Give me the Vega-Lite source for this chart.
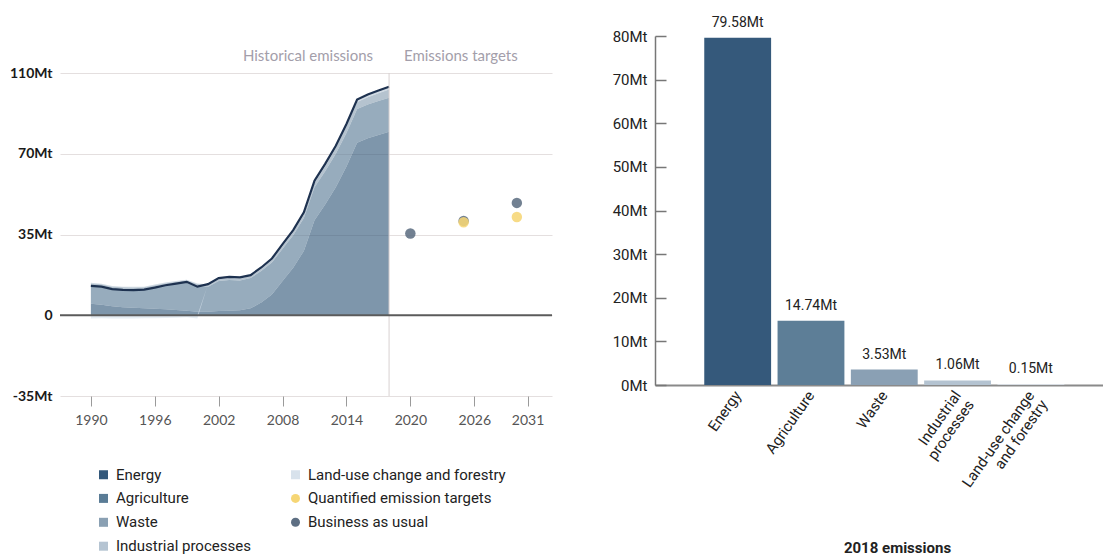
{
  "$schema": "https://vega.github.io/schema/vega-lite/v6.json",
  "background": "white",
  "padding": {"left": 9, "top": 15, "right": 0, "bottom": 0},
  "spacing": 103,
  "bounds": "flush",
  "config": {"view": {"stroke": null}, "font": "Roboto"},
  "resolve": {"scale": {"color": "independent"}, "legend": {"color": "independent"}},
  "datasets": {
    "sectors": [
      {"year":1990,"sector":"Energy","value":5.0},{"year":1990,"sector":"Agriculture","value":8.2},{"year":1990,"sector":"Waste","value":0.6},{"year":1990,"sector":"Industrial processes","value":0.3},{"year":1990,"sector":"Land-use change and forestry","value":-1.4},
      {"year":1991,"sector":"Energy","value":4.6},{"year":1991,"sector":"Agriculture","value":8.2},{"year":1991,"sector":"Waste","value":0.6},{"year":1991,"sector":"Industrial processes","value":0.3},{"year":1991,"sector":"Land-use change and forestry","value":-1.3},
      {"year":1992,"sector":"Energy","value":3.9},{"year":1992,"sector":"Agriculture","value":7.9},{"year":1992,"sector":"Waste","value":0.6},{"year":1992,"sector":"Industrial processes","value":0.3},{"year":1992,"sector":"Land-use change and forestry","value":-1.4},
      {"year":1993,"sector":"Energy","value":3.5},{"year":1993,"sector":"Agriculture","value":8.0},{"year":1993,"sector":"Waste","value":0.6},{"year":1993,"sector":"Industrial processes","value":0.3},{"year":1993,"sector":"Land-use change and forestry","value":-1.4},
      {"year":1994,"sector":"Energy","value":3.2},{"year":1994,"sector":"Agriculture","value":8.2},{"year":1994,"sector":"Waste","value":0.6},{"year":1994,"sector":"Industrial processes","value":0.3},{"year":1994,"sector":"Land-use change and forestry","value":-1.4},
      {"year":1995,"sector":"Energy","value":3.0},{"year":1995,"sector":"Agriculture","value":8.5},{"year":1995,"sector":"Waste","value":0.6},{"year":1995,"sector":"Industrial processes","value":0.3},{"year":1995,"sector":"Land-use change and forestry","value":-1.3},
      {"year":1996,"sector":"Energy","value":2.8},{"year":1996,"sector":"Agriculture","value":9.5},{"year":1996,"sector":"Waste","value":0.7},{"year":1996,"sector":"Industrial processes","value":0.3},{"year":1996,"sector":"Land-use change and forestry","value":-1.3},
      {"year":1997,"sector":"Energy","value":2.6},{"year":1997,"sector":"Agriculture","value":10.6},{"year":1997,"sector":"Waste","value":0.7},{"year":1997,"sector":"Industrial processes","value":0.3},{"year":1997,"sector":"Land-use change and forestry","value":-1.2},
      {"year":1998,"sector":"Energy","value":2.3},{"year":1998,"sector":"Agriculture","value":11.5},{"year":1998,"sector":"Waste","value":0.7},{"year":1998,"sector":"Industrial processes","value":0.3},{"year":1998,"sector":"Land-use change and forestry","value":-1.1},
      {"year":1999,"sector":"Energy","value":2.0},{"year":1999,"sector":"Agriculture","value":12.4},{"year":1999,"sector":"Waste","value":0.7},{"year":1999,"sector":"Industrial processes","value":0.3},{"year":1999,"sector":"Land-use change and forestry","value":-0.9},
      {"year":2000,"sector":"Energy","value":1.5},{"year":2000,"sector":"Agriculture","value":11.3},{"year":2000,"sector":"Waste","value":0.7},{"year":2000,"sector":"Industrial processes","value":0.3},{"year":2000,"sector":"Land-use change and forestry","value":-1.4},
      {"year":2001,"sector":"Energy","value":1.5},{"year":2001,"sector":"Agriculture","value":10.9},{"year":2001,"sector":"Waste","value":0.7},{"year":2001,"sector":"Industrial processes","value":0.3},{"year":2001,"sector":"Land-use change and forestry","value":0.1},
      {"year":2002,"sector":"Energy","value":1.8},{"year":2002,"sector":"Agriculture","value":13.0},{"year":2002,"sector":"Waste","value":0.8},{"year":2002,"sector":"Industrial processes","value":0.3},{"year":2002,"sector":"Land-use change and forestry","value":0.2},
      {"year":2003,"sector":"Energy","value":2.0},{"year":2003,"sector":"Agriculture","value":13.3},{"year":2003,"sector":"Waste","value":0.8},{"year":2003,"sector":"Industrial processes","value":0.3},{"year":2003,"sector":"Land-use change and forestry","value":0.2},
      {"year":2004,"sector":"Energy","value":2.2},{"year":2004,"sector":"Agriculture","value":12.9},{"year":2004,"sector":"Waste","value":0.8},{"year":2004,"sector":"Industrial processes","value":0.3},{"year":2004,"sector":"Land-use change and forestry","value":0.2},
      {"year":2005,"sector":"Energy","value":3.0},{"year":2005,"sector":"Agriculture","value":13.1},{"year":2005,"sector":"Waste","value":0.8},{"year":2005,"sector":"Industrial processes","value":0.3},{"year":2005,"sector":"Land-use change and forestry","value":0.2},
      {"year":2006,"sector":"Energy","value":5.5},{"year":2006,"sector":"Agriculture","value":13.7},{"year":2006,"sector":"Waste","value":0.9},{"year":2006,"sector":"Industrial processes","value":0.4},{"year":2006,"sector":"Land-use change and forestry","value":0.2},
      {"year":2007,"sector":"Energy","value":9.0},{"year":2007,"sector":"Agriculture","value":13.9},{"year":2007,"sector":"Waste","value":1.0},{"year":2007,"sector":"Industrial processes","value":0.5},{"year":2007,"sector":"Land-use change and forestry","value":0.2},
      {"year":2008,"sector":"Energy","value":14.8},{"year":2008,"sector":"Agriculture","value":14.0},{"year":2008,"sector":"Waste","value":1.2},{"year":2008,"sector":"Industrial processes","value":0.6},{"year":2008,"sector":"Land-use change and forestry","value":0.2},
      {"year":2009,"sector":"Energy","value":20.6},{"year":2009,"sector":"Agriculture","value":14.1},{"year":2009,"sector":"Waste","value":1.4},{"year":2009,"sector":"Industrial processes","value":0.6},{"year":2009,"sector":"Land-use change and forestry","value":0.2},
      {"year":2010,"sector":"Energy","value":27.9},{"year":2010,"sector":"Agriculture","value":14.2},{"year":2010,"sector":"Waste","value":1.6},{"year":2010,"sector":"Industrial processes","value":0.7},{"year":2010,"sector":"Land-use change and forestry","value":0.2},
      {"year":2011,"sector":"Energy","value":41.2},{"year":2011,"sector":"Agriculture","value":14.3},{"year":2011,"sector":"Waste","value":1.9},{"year":2011,"sector":"Industrial processes","value":0.7},{"year":2011,"sector":"Land-use change and forestry","value":0.2},
      {"year":2012,"sector":"Energy","value":48.0},{"year":2012,"sector":"Agriculture","value":14.4},{"year":2012,"sector":"Waste","value":2.2},{"year":2012,"sector":"Industrial processes","value":0.8},{"year":2012,"sector":"Land-use change and forestry","value":0.2},
      {"year":2013,"sector":"Energy","value":55.5},{"year":2013,"sector":"Agriculture","value":14.5},{"year":2013,"sector":"Waste","value":2.5},{"year":2013,"sector":"Industrial processes","value":0.8},{"year":2013,"sector":"Land-use change and forestry","value":0.2},
      {"year":2014,"sector":"Energy","value":64.5},{"year":2014,"sector":"Agriculture","value":14.5},{"year":2014,"sector":"Waste","value":2.8},{"year":2014,"sector":"Industrial processes","value":0.9},{"year":2014,"sector":"Land-use change and forestry","value":0.2},
      {"year":2015,"sector":"Energy","value":74.8},{"year":2015,"sector":"Agriculture","value":14.6},{"year":2015,"sector":"Waste","value":3.0},{"year":2015,"sector":"Industrial processes","value":0.9},{"year":2015,"sector":"Land-use change and forestry","value":0.2},
      {"year":2016,"sector":"Energy","value":76.7},{"year":2016,"sector":"Agriculture","value":14.6},{"year":2016,"sector":"Waste","value":3.2},{"year":2016,"sector":"Industrial processes","value":1.0},{"year":2016,"sector":"Land-use change and forestry","value":0.2},
      {"year":2017,"sector":"Energy","value":78.15},{"year":2017,"sector":"Agriculture","value":14.7},{"year":2017,"sector":"Waste","value":3.4},{"year":2017,"sector":"Industrial processes","value":1.0},{"year":2017,"sector":"Land-use change and forestry","value":0.15},
      {"year":2018,"sector":"Energy","value":79.58},{"year":2018,"sector":"Agriculture","value":14.74},{"year":2018,"sector":"Waste","value":3.53},{"year":2018,"sector":"Industrial processes","value":1.06},{"year":2018,"sector":"Land-use change and forestry","value":0.15}
    ],
    "targets": [
      {"series":"Business as usual","year":2020,"value":35.4},
      {"series":"Business as usual","year":2025,"value":40.9},
      {"series":"Business as usual","year":2030,"value":48.7},
      {"series":"Quantified emission targets","year":2025,"value":40.3},
      {"series":"Quantified emission targets","year":2030,"value":42.6}
    ],
    "bars": [
      {"sector":"Energy","value":79.58},
      {"sector":"Agriculture","value":14.74},
      {"sector":"Waste","value":3.53},
      {"sector":"Industrial processes","value":1.06},
      {"sector":"Land-use change and forestry","value":0.15}
    ]
  },
  "hconcat": [
    {
      "width": 492,
      "height": 360,
      "layer": [
        {
          "data": {"name": "sectors"},
          "transform": [{"calculate": "indexof(['Energy','Agriculture','Waste','Industrial processes','Land-use change and forestry'], datum.sector)", "as": "ord"}],
          "mark": {"type": "area", "opacity": 0.63, "interpolate": "linear"},
          "encoding": {
            "x": {"field": "year", "type": "quantitative",
              "scale": {"domain": [1987.1, 2033.3], "nice": false, "zero": false},
              "axis": {"values": [1990, 1996, 2002, 2008, 2014, 2020, 2026, 2031], "format": "d", "grid": false, "domain": false,
                "tickColor": "#9a9a9a", "tickSize": 10, "labelFont": "Lato", "labelFontSize": 14, "labelColor": "#555555",
                "labelPadding": 7, "labelFlush": false, "title": null}},
            "y": {"field": "value", "type": "quantitative", "stack": "zero",
              "scale": {"domain": [-35, 121.04], "nice": false, "zero": false},
              "axis": {"values": [-35, 0, 35, 70, 105], "labelExpr": "datum.value == 105 ? '110Mt' : datum.value == 0 ? '0' : datum.value + 'Mt'",
                "grid": true, "gridColor": "#e4dfdf", "gridWidth": 1, "domain": false, "ticks": false,
                "labelFont": "Lato", "labelFontSize": 14, "labelFontWeight": "bold", "labelColor": "#1a1a1a", "labelPadding": 8, "title": null}},
            "color": {"field": "sector", "type": "nominal",
              "scale": {"domain": ["Energy", "Agriculture", "Waste", "Industrial processes", "Land-use change and forestry", "Quantified emission targets", "Business as usual"],
                "range": ["#33587a", "#5a7c96", "#8aa0b3", "#b5c4d2", "#d8e2ec", "#f6d675", "#5e6f83"]},
              "legend": {"orient": "none", "legendX": 36, "legendY": 431, "title": null, "columns": 2, "columnPadding": 37, "rowPadding": 7.9,
                "symbolSize": 81, "symbolStrokeWidth": 0, "symbolOpacity": 1, "symbolType": "square", "labelLimit": 400,
                "labelFont": "Roboto", "labelFontSize": 15, "labelColor": "#222222", "labelOffset": 5, "padding": 0,
                "encode": {"symbols": {"update": {"shape": {"signal": "datum.value === 'Quantified emission targets' || datum.value === 'Business as usual' ? 'circle' : 'square'"}}}}}},
            "order": {"field": "ord", "type": "quantitative"}
          }
        },
        {
          "data": {"name": "sectors"},
          "mark": {"type": "line", "color": "#1e3250", "strokeWidth": 2.2},
          "encoding": {
            "x": {"field": "year", "type": "quantitative"},
            "y": {"aggregate": "sum", "field": "value", "type": "quantitative"}
          }
        },
        {
          "data": {"values": [{}]},
          "mark": {"type": "rule", "color": "#d9d1d1", "strokeWidth": 1},
          "encoding": {"x": {"datum": 2018}, "y": {"datum": 105}, "y2": {"datum": -35}}
        },
        {
          "data": {"values": [{}]},
          "mark": {"type": "rule", "color": "#5b5b5b", "strokeWidth": 2},
          "encoding": {"y": {"datum": 0}}
        },
        {
          "data": {"name": "targets"},
          "mark": {"type": "point", "filled": true, "size": 110, "opacity": 0.88},
          "encoding": {
            "x": {"field": "year", "type": "quantitative"},
            "y": {"field": "value", "type": "quantitative"},
            "color": {"field": "series", "type": "nominal"}
          }
        },
        {
          "data": {"values": [{}]},
          "mark": {"type": "text", "align": "right", "baseline": "middle", "font": "Lato", "fontSize": 15, "color": "#a39eaa"},
          "encoding": {"x": {"datum": 2016.5}, "y": {"datum": 112.5}, "text": {"value": "Historical emissions"}}
        },
        {
          "data": {"values": [{}]},
          "mark": {"type": "text", "align": "left", "baseline": "middle", "font": "Lato", "fontSize": 15, "color": "#a39eaa"},
          "encoding": {"x": {"datum": 2019.4}, "y": {"datum": 112.5}, "text": {"value": "Emissions targets"}}
        }
      ]
    },
    {
      "width": 448,
      "height": 349,
      "data": {"name": "bars"},
      "transform": [{"calculate": "format(datum.value, '.2f') + 'Mt'", "as": "lab"}],
      "encoding": {
        "x": {"field": "sector", "type": "nominal", "sort": null,
          "scale": {"paddingInner": 0.088, "paddingOuter": 0.6, "align": 0.56},
          "axis": {"labelAngle": -55, "labelFont": "Roboto", "labelFontSize": 15, "labelColor": "#222222", "ticks": false,
            "domainColor": "#8a8a8a", "domainWidth": 2, "labelPadding": 7, "labelLineHeight": 16,
            "labelExpr": "datum.label == 'Industrial processes' ? ['Industrial', 'processes'] : datum.label == 'Land-use change and forestry' ? ['Land-use change', 'and forestry'] : datum.label",
            "title": "2018 emissions", "titleFont": "Roboto", "titleFontWeight": "bold", "titleFontSize": 15, "titleColor": "#222222",
            "titleX": 242, "titleY": 162, "titleBaseline": "middle"}},
        "y": {"field": "value", "type": "quantitative",
          "scale": {"domain": [0, 80], "nice": false},
          "axis": {"values": [0, 10, 20, 30, 40, 50, 60, 70, 80], "labelExpr": "datum.value + 'Mt'", "grid": false,
            "labelFont": "Roboto", "labelFontSize": 15, "labelColor": "#222222",
            "domainColor": "#777777", "domainWidth": 1.5, "tickColor": "#777777", "tickWidth": 1.5, "tickSize": -11, "labelPadding": 19, "title": null}}
      },
      "layer": [
        {
          "mark": {"type": "bar"},
          "encoding": {
            "color": {"field": "sector", "type": "nominal",
              "scale": {"domain": ["Energy", "Agriculture", "Waste", "Industrial processes", "Land-use change and forestry"],
                "range": ["#35597b", "#5d7e97", "#8aa0b4", "#b4c3d1", "#dfe6ee"]},
              "legend": null}
          }
        },
        {
          "mark": {"type": "text", "baseline": "middle", "dy": -15, "font": "Roboto", "fontSize": 14, "color": "#222222"},
          "encoding": {"text": {"field": "lab"}}
        }
      ]
    }
  ]
}
